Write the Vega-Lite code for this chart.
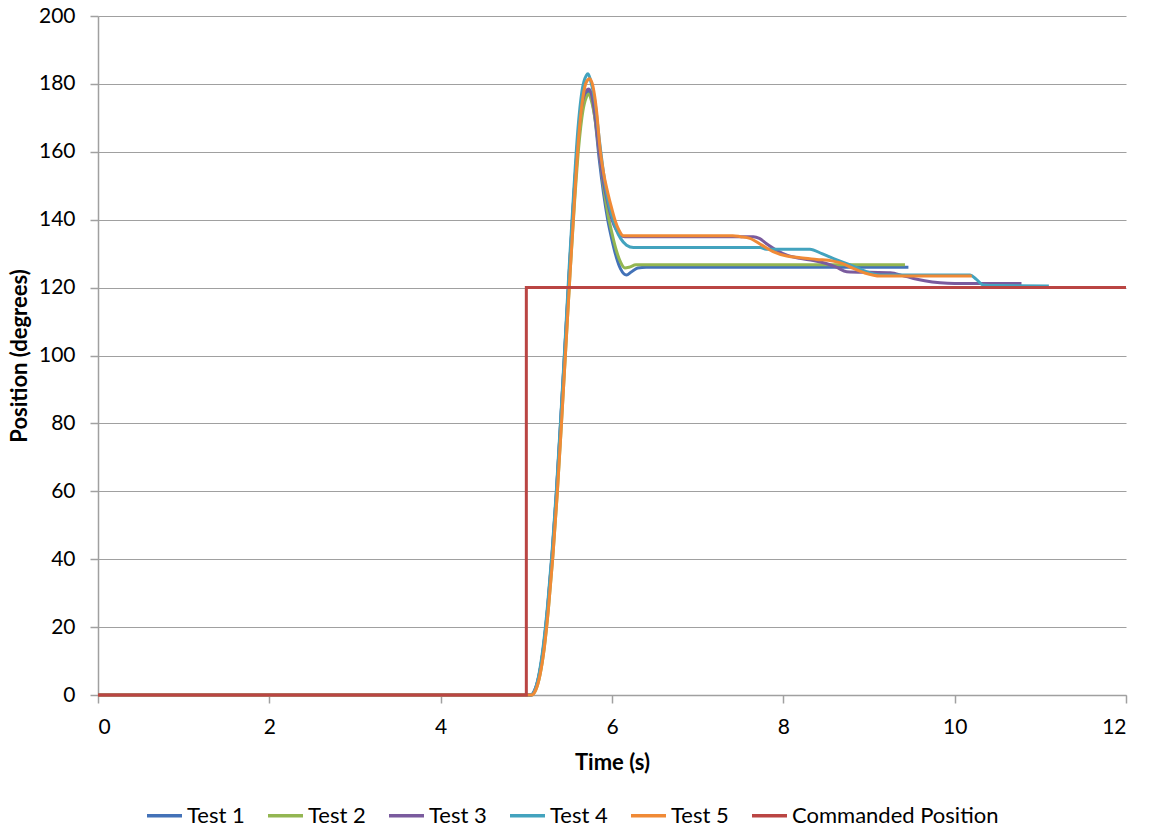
{
  "$schema": "https://vega.github.io/schema/vega-lite/v6.json",
  "width": 1028,
  "height": 679,
  "autosize": {"type": "none"},
  "padding": {"left": 98, "top": 16, "right": 23, "bottom": 136},
  "background": "white",
  "config": {
    "view": {"stroke": null},
    "font": "Lato",
    "axis": {
      "labelFont": "Lato", "labelFontSize": 21, "labelColor": "#000000",
      "titleFont": "Lato", "titleFontSize": 22, "titleFontWeight": "bold", "titleColor": "#000000",
      "domainColor": "#A0A0A0", "tickColor": "#A0A0A0", "gridColor": "#A0A0A0",
      "tickSize": 8, "domainWidth": 1.5, "tickWidth": 1.5, "gridWidth": 1.2
    },
    "legend": {"labelFont": "Lato", "labelFontSize": 22, "labelColor": "#000000", "labelLimit": 400}
  },
  "datasets": {
    "tests": [
      {"s": "Test 1", "i": 0, "t": 0, "v": 0},
      {"s": "Test 1", "i": 1, "t": 5.05, "v": 0},
      {"s": "Test 1", "i": 2, "t": 5.10, "v": 1.5},
      {"s": "Test 1", "i": 3, "t": 5.15, "v": 6},
      {"s": "Test 1", "i": 4, "t": 5.20, "v": 14},
      {"s": "Test 1", "i": 5, "t": 5.25, "v": 26},
      {"s": "Test 1", "i": 6, "t": 5.30, "v": 41},
      {"s": "Test 1", "i": 7, "t": 5.35, "v": 59},
      {"s": "Test 1", "i": 8, "t": 5.40, "v": 80},
      {"s": "Test 1", "i": 9, "t": 5.45, "v": 102},
      {"s": "Test 1", "i": 10, "t": 5.50, "v": 124},
      {"s": "Test 1", "i": 11, "t": 5.55, "v": 145},
      {"s": "Test 1", "i": 12, "t": 5.60, "v": 162},
      {"s": "Test 1", "i": 13, "t": 5.65, "v": 173},
      {"s": "Test 1", "i": 14, "t": 5.70, "v": 177},
      {"s": "Test 1", "i": 15, "t": 5.73, "v": 178},
      {"s": "Test 1", "i": 16, "t": 5.76, "v": 176},
      {"s": "Test 1", "i": 17, "t": 5.80, "v": 170},
      {"s": "Test 1", "i": 18, "t": 5.85, "v": 158},
      {"s": "Test 1", "i": 19, "t": 5.90, "v": 148},
      {"s": "Test 1", "i": 20, "t": 5.95, "v": 140},
      {"s": "Test 1", "i": 21, "t": 6.00, "v": 134},
      {"s": "Test 1", "i": 22, "t": 6.05, "v": 129},
      {"s": "Test 1", "i": 23, "t": 6.10, "v": 125.5},
      {"s": "Test 1", "i": 24, "t": 6.17, "v": 123.7},
      {"s": "Test 1", "i": 25, "t": 6.22, "v": 124.5},
      {"s": "Test 1", "i": 26, "t": 6.30, "v": 125.8},
      {"s": "Test 1", "i": 27, "t": 6.40, "v": 126},
      {"s": "Test 1", "i": 28, "t": 9.46, "v": 126},

      {"s": "Test 2", "i": 0, "t": 0, "v": 0},
      {"s": "Test 2", "i": 1, "t": 5.06, "v": 0},
      {"s": "Test 2", "i": 2, "t": 5.11, "v": 1.5},
      {"s": "Test 2", "i": 3, "t": 5.16, "v": 6},
      {"s": "Test 2", "i": 4, "t": 5.21, "v": 14},
      {"s": "Test 2", "i": 5, "t": 5.26, "v": 26},
      {"s": "Test 2", "i": 6, "t": 5.31, "v": 41},
      {"s": "Test 2", "i": 7, "t": 5.36, "v": 59},
      {"s": "Test 2", "i": 8, "t": 5.41, "v": 80},
      {"s": "Test 2", "i": 9, "t": 5.46, "v": 102},
      {"s": "Test 2", "i": 10, "t": 5.51, "v": 124},
      {"s": "Test 2", "i": 11, "t": 5.56, "v": 144},
      {"s": "Test 2", "i": 12, "t": 5.61, "v": 161},
      {"s": "Test 2", "i": 13, "t": 5.66, "v": 172},
      {"s": "Test 2", "i": 14, "t": 5.70, "v": 176},
      {"s": "Test 2", "i": 15, "t": 5.73, "v": 177},
      {"s": "Test 2", "i": 16, "t": 5.76, "v": 175},
      {"s": "Test 2", "i": 17, "t": 5.80, "v": 170},
      {"s": "Test 2", "i": 18, "t": 5.85, "v": 160},
      {"s": "Test 2", "i": 19, "t": 5.90, "v": 150},
      {"s": "Test 2", "i": 20, "t": 5.95, "v": 142},
      {"s": "Test 2", "i": 21, "t": 6.00, "v": 136},
      {"s": "Test 2", "i": 22, "t": 6.05, "v": 131},
      {"s": "Test 2", "i": 23, "t": 6.10, "v": 127.5},
      {"s": "Test 2", "i": 24, "t": 6.15, "v": 125.8},
      {"s": "Test 2", "i": 25, "t": 6.20, "v": 126},
      {"s": "Test 2", "i": 26, "t": 6.28, "v": 126.7},
      {"s": "Test 2", "i": 27, "t": 9.42, "v": 126.7},

      {"s": "Test 3", "i": 0, "t": 0, "v": 0},
      {"s": "Test 3", "i": 1, "t": 5.05, "v": 0},
      {"s": "Test 3", "i": 2, "t": 5.10, "v": 1.5},
      {"s": "Test 3", "i": 3, "t": 5.15, "v": 6},
      {"s": "Test 3", "i": 4, "t": 5.20, "v": 14},
      {"s": "Test 3", "i": 5, "t": 5.25, "v": 26},
      {"s": "Test 3", "i": 6, "t": 5.30, "v": 41},
      {"s": "Test 3", "i": 7, "t": 5.35, "v": 59},
      {"s": "Test 3", "i": 8, "t": 5.40, "v": 80},
      {"s": "Test 3", "i": 9, "t": 5.45, "v": 102},
      {"s": "Test 3", "i": 10, "t": 5.50, "v": 124},
      {"s": "Test 3", "i": 11, "t": 5.55, "v": 145},
      {"s": "Test 3", "i": 12, "t": 5.60, "v": 163},
      {"s": "Test 3", "i": 13, "t": 5.65, "v": 174},
      {"s": "Test 3", "i": 14, "t": 5.70, "v": 178},
      {"s": "Test 3", "i": 15, "t": 5.73, "v": 178.5},
      {"s": "Test 3", "i": 16, "t": 5.76, "v": 177},
      {"s": "Test 3", "i": 17, "t": 5.80, "v": 171},
      {"s": "Test 3", "i": 18, "t": 5.85, "v": 160},
      {"s": "Test 3", "i": 19, "t": 5.90, "v": 151},
      {"s": "Test 3", "i": 20, "t": 5.95, "v": 145},
      {"s": "Test 3", "i": 21, "t": 6.00, "v": 140},
      {"s": "Test 3", "i": 22, "t": 6.05, "v": 137},
      {"s": "Test 3", "i": 23, "t": 6.10, "v": 135.5},
      {"s": "Test 3", "i": 24, "t": 6.15, "v": 135},
      {"s": "Test 3", "i": 25, "t": 7.65, "v": 135},
      {"s": "Test 3", "i": 26, "t": 7.72, "v": 134.5},
      {"s": "Test 3", "i": 27, "t": 7.80, "v": 133},
      {"s": "Test 3", "i": 28, "t": 7.92, "v": 131},
      {"s": "Test 3", "i": 29, "t": 8.05, "v": 129.5},
      {"s": "Test 3", "i": 30, "t": 8.19, "v": 128.6},
      {"s": "Test 3", "i": 31, "t": 8.35, "v": 128},
      {"s": "Test 3", "i": 32, "t": 8.50, "v": 127.1},
      {"s": "Test 3", "i": 33, "t": 8.62, "v": 126},
      {"s": "Test 3", "i": 34, "t": 8.74, "v": 124.7},
      {"s": "Test 3", "i": 35, "t": 9.00, "v": 124.5},
      {"s": "Test 3", "i": 36, "t": 9.25, "v": 124.4},
      {"s": "Test 3", "i": 37, "t": 9.40, "v": 123.5},
      {"s": "Test 3", "i": 38, "t": 9.52, "v": 122.7},
      {"s": "Test 3", "i": 39, "t": 9.65, "v": 122},
      {"s": "Test 3", "i": 40, "t": 9.83, "v": 121.4},
      {"s": "Test 3", "i": 41, "t": 10.0, "v": 121.2},
      {"s": "Test 3", "i": 42, "t": 10.78, "v": 121.2},

      {"s": "Test 4", "i": 0, "t": 0, "v": 0},
      {"s": "Test 4", "i": 1, "t": 5.05, "v": 0},
      {"s": "Test 4", "i": 2, "t": 5.10, "v": 1.5},
      {"s": "Test 4", "i": 3, "t": 5.15, "v": 6.5},
      {"s": "Test 4", "i": 4, "t": 5.20, "v": 15},
      {"s": "Test 4", "i": 5, "t": 5.25, "v": 27},
      {"s": "Test 4", "i": 6, "t": 5.30, "v": 42},
      {"s": "Test 4", "i": 7, "t": 5.35, "v": 60},
      {"s": "Test 4", "i": 8, "t": 5.40, "v": 81},
      {"s": "Test 4", "i": 9, "t": 5.45, "v": 103},
      {"s": "Test 4", "i": 10, "t": 5.50, "v": 126},
      {"s": "Test 4", "i": 11, "t": 5.55, "v": 147},
      {"s": "Test 4", "i": 12, "t": 5.60, "v": 166},
      {"s": "Test 4", "i": 13, "t": 5.65, "v": 178},
      {"s": "Test 4", "i": 14, "t": 5.70, "v": 182.5},
      {"s": "Test 4", "i": 15, "t": 5.72, "v": 183},
      {"s": "Test 4", "i": 16, "t": 5.75, "v": 181},
      {"s": "Test 4", "i": 17, "t": 5.80, "v": 175},
      {"s": "Test 4", "i": 18, "t": 5.85, "v": 164},
      {"s": "Test 4", "i": 19, "t": 5.90, "v": 154},
      {"s": "Test 4", "i": 20, "t": 5.95, "v": 146},
      {"s": "Test 4", "i": 21, "t": 6.00, "v": 141},
      {"s": "Test 4", "i": 22, "t": 6.05, "v": 137},
      {"s": "Test 4", "i": 23, "t": 6.10, "v": 134.5},
      {"s": "Test 4", "i": 24, "t": 6.17, "v": 132.5},
      {"s": "Test 4", "i": 25, "t": 6.25, "v": 131.8},
      {"s": "Test 4", "i": 26, "t": 7.73, "v": 131.8},
      {"s": "Test 4", "i": 27, "t": 7.80, "v": 131.3},
      {"s": "Test 4", "i": 28, "t": 8.31, "v": 131.3},
      {"s": "Test 4", "i": 29, "t": 8.45, "v": 130},
      {"s": "Test 4", "i": 30, "t": 8.58, "v": 128.6},
      {"s": "Test 4", "i": 31, "t": 8.78, "v": 126.7},
      {"s": "Test 4", "i": 32, "t": 8.97, "v": 124.7},
      {"s": "Test 4", "i": 33, "t": 9.10, "v": 123.8},
      {"s": "Test 4", "i": 34, "t": 9.17, "v": 123.7},
      {"s": "Test 4", "i": 35, "t": 10.18, "v": 123.7},
      {"s": "Test 4", "i": 36, "t": 10.25, "v": 122.5},
      {"s": "Test 4", "i": 37, "t": 10.33, "v": 120.8},
      {"s": "Test 4", "i": 38, "t": 10.50, "v": 120.6},
      {"s": "Test 4", "i": 39, "t": 11.10, "v": 120.5},

      {"s": "Test 5", "i": 0, "t": 0, "v": 0},
      {"s": "Test 5", "i": 1, "t": 5.06, "v": 0},
      {"s": "Test 5", "i": 2, "t": 5.11, "v": 1.5},
      {"s": "Test 5", "i": 3, "t": 5.16, "v": 6},
      {"s": "Test 5", "i": 4, "t": 5.21, "v": 14},
      {"s": "Test 5", "i": 5, "t": 5.26, "v": 26},
      {"s": "Test 5", "i": 6, "t": 5.31, "v": 41},
      {"s": "Test 5", "i": 7, "t": 5.36, "v": 59},
      {"s": "Test 5", "i": 8, "t": 5.41, "v": 80},
      {"s": "Test 5", "i": 9, "t": 5.46, "v": 102},
      {"s": "Test 5", "i": 10, "t": 5.51, "v": 124},
      {"s": "Test 5", "i": 11, "t": 5.56, "v": 145},
      {"s": "Test 5", "i": 12, "t": 5.61, "v": 164},
      {"s": "Test 5", "i": 13, "t": 5.66, "v": 176},
      {"s": "Test 5", "i": 14, "t": 5.70, "v": 180.5},
      {"s": "Test 5", "i": 15, "t": 5.74, "v": 181.5},
      {"s": "Test 5", "i": 16, "t": 5.78, "v": 179},
      {"s": "Test 5", "i": 17, "t": 5.82, "v": 172},
      {"s": "Test 5", "i": 18, "t": 5.86, "v": 161},
      {"s": "Test 5", "i": 19, "t": 5.90, "v": 154},
      {"s": "Test 5", "i": 20, "t": 5.95, "v": 148},
      {"s": "Test 5", "i": 21, "t": 6.00, "v": 143},
      {"s": "Test 5", "i": 22, "t": 6.04, "v": 139.5},
      {"s": "Test 5", "i": 23, "t": 6.08, "v": 137},
      {"s": "Test 5", "i": 24, "t": 6.13, "v": 135.3},
      {"s": "Test 5", "i": 25, "t": 7.41, "v": 135.3},
      {"s": "Test 5", "i": 26, "t": 7.50, "v": 135},
      {"s": "Test 5", "i": 27, "t": 7.61, "v": 134.5},
      {"s": "Test 5", "i": 28, "t": 7.75, "v": 132.5},
      {"s": "Test 5", "i": 29, "t": 7.88, "v": 130.6},
      {"s": "Test 5", "i": 30, "t": 8.04, "v": 129.3},
      {"s": "Test 5", "i": 31, "t": 8.20, "v": 128.8},
      {"s": "Test 5", "i": 32, "t": 8.39, "v": 128.3},
      {"s": "Test 5", "i": 33, "t": 8.58, "v": 127.8},
      {"s": "Test 5", "i": 34, "t": 8.70, "v": 127},
      {"s": "Test 5", "i": 35, "t": 8.81, "v": 125.7},
      {"s": "Test 5", "i": 36, "t": 8.95, "v": 124.3},
      {"s": "Test 5", "i": 37, "t": 9.13, "v": 123.4},
      {"s": "Test 5", "i": 38, "t": 10.20, "v": 123.4}
    ],
    "cmd": [
      {"s": "Commanded Position", "i": 0, "t": 0, "v": 0},
      {"s": "Commanded Position", "i": 1, "t": 5, "v": 0},
      {"s": "Commanded Position", "i": 2, "t": 5, "v": 120},
      {"s": "Commanded Position", "i": 3, "t": 12, "v": 120}
    ]
  },
  "encoding": {
    "x": {
      "field": "t", "type": "quantitative", "title": "Time (s)",
      "scale": {"domain": [0, 12], "nice": false},
      "axis": {"values": [0, 2, 4, 6, 8, 10, 12], "grid": false, "labelPadding": 13, "titlePadding": 15}
    },
    "y": {
      "field": "v", "type": "quantitative", "title": "Position (degrees)",
      "scale": {"domain": [0, 200], "nice": false},
      "axis": {"values": [0, 20, 40, 60, 80, 100, 120, 140, 160, 180, 200], "grid": true, "labelPadding": 15, "titlePadding": 7}
    },
    "color": {
      "field": "s", "type": "nominal",
      "scale": {
        "domain": ["Test 1", "Test 2", "Test 3", "Test 4", "Test 5", "Commanded Position"],
        "range": ["#4372B8", "#93B652", "#7A5B9E", "#43A3BE", "#F08A36", "#BA4543"]
      },
      "legend": {
        "title": null, "orient": "none", "direction": "horizontal",
        "legendX": 47, "legendY": 780,
        "symbolType": "stroke", "symbolSize": 1225, "symbolStrokeWidth": 3.5,
        "labelOffset": 3, "columnPadding": 16, "padding": 0
      }
    },
    "order": {"field": "i", "type": "quantitative"}
  },
  "layer": [
    {"data": {"name": "tests"}, "mark": {"type": "line", "strokeWidth": 3, "interpolate": "monotone"}},
    {"data": {"name": "cmd"}, "mark": {"type": "line", "strokeWidth": 3}}
  ]
}
